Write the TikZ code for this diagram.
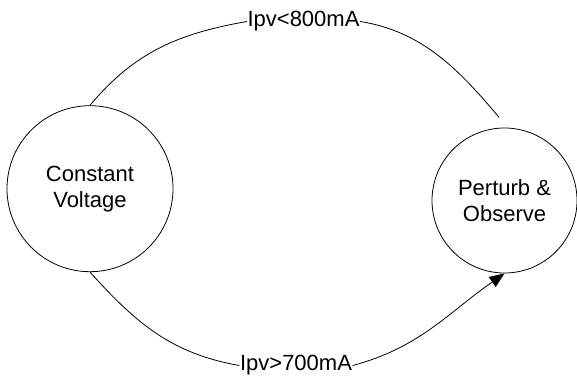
\documentclass[tikz,border=0pt]{standalone}
\usepackage{fontspec}
\setmainfont{Liberation Sans}
\usetikzlibrary{arrows.meta}
\begin{document}
\begin{tikzpicture}[x=1pt,y=1pt,
  state/.style={circle,draw,line width=0.8pt,inner sep=0pt,align=center,
    font=\fontsize{22}{26}\selectfont},
  cond/.style={fill=white,inner xsep=0.5pt,inner ysep=1pt,
    font=\fontsize{22}{26}\selectfont},
  link/.style={line width=0.8pt},
  tip/.style={-{Triangle[length=15pt,width=12pt]}}]
\useasboundingbox (0,0) rectangle (577,378);

% the two tracking modes
\node[state,minimum size=166pt] (cv) at (90,189.3) {Constant\\Voltage};
\node[state,minimum size=145pt] (pe) at (504.5,177.5) {Perturb \&\\Observe};

% switching conditions
\node[cond] (l1) at (303.5,356.5) {Ipv<800mA};
\node[cond] (l2) at (296,12.5) {Ipv>700mA};
\coordinate (t) at (499,260.7);

% upper transition
\draw[link] (cv.north) to[out=50,in=190] (l1.west);
\draw[link] (l1.east) to[out=-9,in=130,looseness=0.95] (t);

% lower transition
\draw[link] (cv.south) to[out=-48,in=170] (l2.west);
\draw[link,tip] (l2.east) to[out=15,in=215] (pe.south);
\end{tikzpicture}
\end{document}
